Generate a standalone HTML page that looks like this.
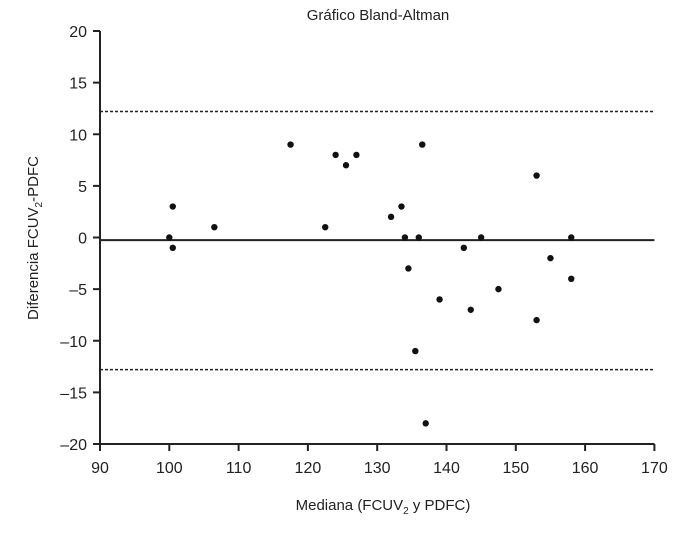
<!DOCTYPE html>
<html><head><meta charset="utf-8"><style>
body{margin:0;background:#fff}
svg text{font-family:"Liberation Sans",sans-serif;fill:#222}
</style></head><body>
<svg id="chart" width="700" height="531" xmlns="http://www.w3.org/2000/svg">
<text x="378" y="20" font-size="15" text-anchor="middle">Gráfico Bland-Altman</text>
<g id="axes"></g><g id="lines"></g><g id="points"></g>
<text x="383" y="510" font-size="15" text-anchor="middle">Mediana (FCUV<tspan font-size="10" dy="4">2</tspan><tspan dy="-4"> y PDFC)</tspan></text>
<text transform="translate(38,238) rotate(-90)" font-size="15" text-anchor="middle">Diferencia FCUV<tspan font-size="10" dy="4">2</tspan><tspan dy="-4">-PDFC</tspan></text>
</svg>
<script>
const xVals=[100,100.5,100.5,106.5,117.5,122.5,124,125.5,127,132,133.5,134,134.5,135.5,136,136.5,137,139,142.5,143.5,145,147.5,153,153,155,158,158];
const yVals=[0,3,-1,1,9,1,8,7,8,2,3,0,-3,-11,0,9,-18,-6,-1,-7,0,-5,6,-8,-2,0,-4];
const xTicks=[90,100,110,120,130,140,150,160,170];
const yTicks=[20,15,10,5,0,-5,-10,-15,-20];
const meanDiff=-0.25, upperLoA=12.2, lowerLoA=-12.8;
const NS="http://www.w3.org/2000/svg";
const X=v=>100+(v-90)*69.3/10, Y=v=>444-(v+20)*413/40;
function mk(t,a,p){const e=document.createElementNS(NS,t);for(const k in a)e.setAttribute(k,a[k]);p.appendChild(e);return e;}
const ax=document.getElementById('axes');
let e=mk('line',{x1:100,y1:Y(20),x2:100,y2:444,stroke:'#222','stroke-width':2},ax);

e=mk('line',{x1:100,y1:444,x2:X(170),y2:444,stroke:'#222','stroke-width':2},ax);

xTicks.forEach(v=>{mk('line',{x1:X(v),y1:444,x2:X(v),y2:451,stroke:'#222','stroke-width':2},ax);
 const t=mk('text',{x:X(v),y:473,'font-size':16,'text-anchor':'middle'},ax);t.textContent=v;
 });
yTicks.forEach(v=>{mk('line',{x1:93,y1:Y(v),x2:100,y2:Y(v),stroke:'#222','stroke-width':2},ax);
 const t=mk('text',{x:87,y:Y(v)+6,'font-size':16,'text-anchor':'end'},ax);t.textContent=v<0?'\u2013'+(-v):v;
 });
const ln=document.getElementById('lines');
e=mk('line',{x1:100,y1:Y(meanDiff),x2:X(170),y2:Y(meanDiff),stroke:'#222','stroke-width':2},ln);

e=mk('line',{x1:100,y1:Y(upperLoA),x2:X(170),y2:Y(upperLoA),stroke:'#222','stroke-width':1.5,'stroke-dasharray':'3,2'},ln);

e=mk('line',{x1:100,y1:Y(lowerLoA),x2:X(170),y2:Y(lowerLoA),stroke:'#222','stroke-width':1.5,'stroke-dasharray':'3,2'},ln);

const pg=document.getElementById('points');
xVals.forEach((x,i)=>{const c=mk('circle',{cx:X(x),cy:Y(yVals[i]),r:3.2,fill:'#111'},pg);
 
 });
</script>
</body></html>
